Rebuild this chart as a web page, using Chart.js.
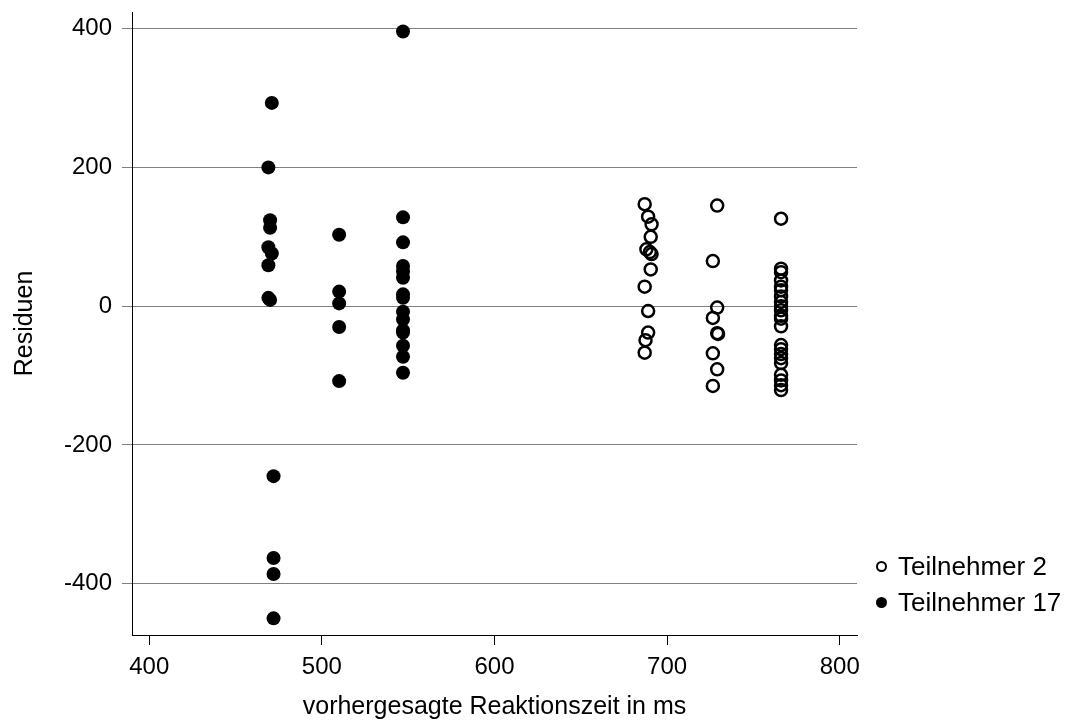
<!DOCTYPE html>
<html>
<head>
<meta charset="utf-8">
<script src="https://cdn.jsdelivr.net/npm/chart.js@4.4.0/dist/chart.umd.min.js"></script>
<style>
  body { margin: 0; background: #fff; }
  #wrap { position: relative; width: 1087px; height: 724px; }
  #legend { position: absolute; left: 876px; top: 549px; font-family: 'Liberation Sans', Arial, sans-serif; font-size: 26px; color: #000; }
  .item { height: 36px; line-height: 34px; white-space: nowrap; }
  .mark { display: inline-block; width: 11px; height: 11px; border-radius: 50%; box-sizing: border-box; margin-right: 11px; vertical-align: 3px; }
  .open { border: 2.5px solid #000; }
  .fill { background: #000; }
</style>
</head>
<body>
<div id="wrap">
  <canvas id="plot" width="1087" height="724"></canvas>
  <div id="legend"></div>
</div>
<script>
// Teilnehmer 2 (offene Kreise)
const t2X = [687, 689, 691, 690.5, 688, 690, 691, 690.5, 687, 689, 689, 687.5, 687,
  729, 726.5, 729, 726.5, 729, 729.5, 726.5, 729, 726.5,
  766, 766, 766, 766, 766, 766, 766, 766, 766, 766, 766, 766, 766, 766, 766, 766, 766, 766, 766, 766, 766, 766];
const t2Y = [147, 129, 118, 100, 82, 78, 75, 53, 28, -7, -38, -49, -67,
  145, 65, -2, -17, -39, -40, -68, -91, -115,
  126, 54, 49, 37, 28, 23, 14, 6, 0, -6, -14, -18, -29, -56, -62, -69, -75, -82, -99, -107, -114, -121];

// Teilnehmer 17 (gefuellte Kreise)
const t17X = [471, 469, 470, 470, 469, 471, 469, 469, 470, 472, 472, 472, 472,
  510, 510, 510, 510, 510,
  547, 547, 547, 547, 547, 547, 547, 547, 547, 547, 547, 547, 547, 547, 547];
const t17Y = [293, 200, 124, 113, 85, 76, 59, 12, 9, -245, -363, -386, -450,
  103, 21, 4, -30, -108,
  396, 128, 92, 58, 50, 41, 17, 12, -8, -19, -35, -38, -57, -73, -96];

const seriesNames = ['Teilnehmer 2', 'Teilnehmer 17'];
const xTicks = [400, 500, 600, 700, 800];
const yTicks = [-400, -200, 0, 200, 400];

const toPoints = (xs, ys) => xs.map((x, i) => ({ x: x, y: ys[i] }));

Chart.defaults.font.family = "'Liberation Sans', Arial, sans-serif";
Chart.defaults.color = '#000';

new Chart(document.getElementById('plot').getContext('2d'), {
  type: 'scatter',
  data: {
    datasets: [
      {
        label: seriesNames[0],
        data: toPoints(t2X, t2Y),
        pointRadius: 6,
        pointBorderWidth: 2.5,
        borderColor: '#000',
        backgroundColor: 'rgba(0,0,0,0)'
      },
      {
        label: seriesNames[1],
        data: toPoints(t17X, t17Y),
        pointRadius: 7,
        pointBorderWidth: 0,
        borderColor: '#000',
        backgroundColor: '#000'
      }
    ]
  },
  options: {
    responsive: false,
    animation: false,
    layout: { padding: { top: 0, right: 230, bottom: 0, left: 0 } },
    plugins: {
      legend: { display: false },
      tooltip: { enabled: false }
    },
    scales: {
      x: {
        type: 'linear',
        min: 390,
        max: 810,
        afterFit: (scale) => { scale.height = 89; },
        afterBuildTicks: (scale) => { scale.ticks = xTicks.map(v => ({ value: v })); },
        grid: { drawOnChartArea: false, tickLength: 10, color: '#000', lineWidth: 1 },
        border: { color: '#000', width: 1 },
        ticks: { font: { size: 24 }, padding: 8, color: '#000' },
        title: { display: true, text: 'vorhergesagte Reaktionszeit in ms', font: { size: 25 }, padding: { top: 0, bottom: 2 } }
      },
      y: {
        type: 'linear',
        min: -474,
        max: 424,
        afterFit: (scale) => {
          scale.width = 132;
          scale.paddingTop = 12;
          scale.paddingBottom = 0;
        },
        afterBuildTicks: (scale) => { scale.ticks = yTicks.map(v => ({ value: v })); },
        grid: { color: '#808080', lineWidth: 1, tickLength: 10 },
        border: { color: '#000', width: 1 },
        ticks: { font: { size: 24 }, padding: 10, color: '#000' },
        title: { display: true, text: 'Residuen', font: { size: 25 }, padding: { top: 10, bottom: 0 } }
      }
    }
  }
});

// Legende als HTML-Text
const legend = document.getElementById('legend');
seriesNames.forEach((name, i) => {
  const item = document.createElement('div');
  item.className = 'item';
  item.innerHTML = '<span class="mark ' + (i === 0 ? 'open' : 'fill') + '"></span>' + name;
  legend.appendChild(item);
});
</script>
</body>
</html>
